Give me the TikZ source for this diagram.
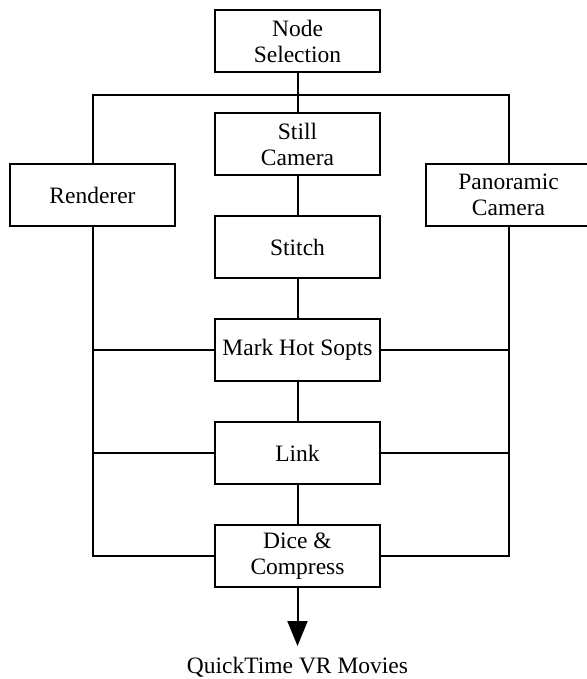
\documentclass[tikz,border=0pt]{standalone}
\usepackage{fontspec}
\setmainfont{Liberation Serif}
\usepackage{tikz}
\usetikzlibrary{arrows.meta, positioning, calc}
\tikzset{
node distance=39pt,
>={Triangle[length=25pt,width=20pt]},
hv path/.style={to path={-| (\tikztotarget)}},
vh path/.style={to path={|- (\tikztotarget)}},
box/.style={%
    rectangle,
    minimum width=165pt,
    minimum height=62pt,
    inner sep=2pt,
    align=center,
    draw=black,
},
outtext/.style={%
    inner sep=0pt, outer sep=11pt
},
}

\begin{document}
\begin{tikzpicture}[line width=2pt, font=\fontsize{23.5}{26}\selectfont]
\useasboundingbox (0,0) rectangle (586pt,-679pt);

\node[box] (sel) at (297.5pt,-41pt) {Node\\Selection};
\node[box,below=of sel] (still) {Still\\Camera};
\node[box,below=of still] (stitch) {Stitch};
\node[box,below=of stitch] (mark) {Mark Hot Sopts};
\node[box,below=of mark] (link) {Link};
\node[box,below=of link] (dice) {Dice \&\\Compress};
\node[box,left=38pt of still,yshift=-51pt] (render) {Renderer};
\node[box,right=44pt of still,yshift=-51pt] (pano) {Panoramic\\Camera};
\node[outtext,below=58pt of dice] (movies) {QuickTime VR Movies};
\coordinate (bus) at ($(sel.south)+(0,-22pt)$);

\draw (sel) -- (still) -- (stitch) -- (mark) -- (link) -- (dice);
\draw (render) to[vh path] (bus) to[hv path] (pano);
\draw (render) to[vh path] (dice);
\draw (pano) to[vh path] (dice);
\draw (mark) -- (mark -| render) (link) -- (link -| render);
\draw (mark) -- (mark -| pano) (link) -- (link -| pano);
\draw[->] (dice) -- (movies);

\end{tikzpicture}
\end{document}
